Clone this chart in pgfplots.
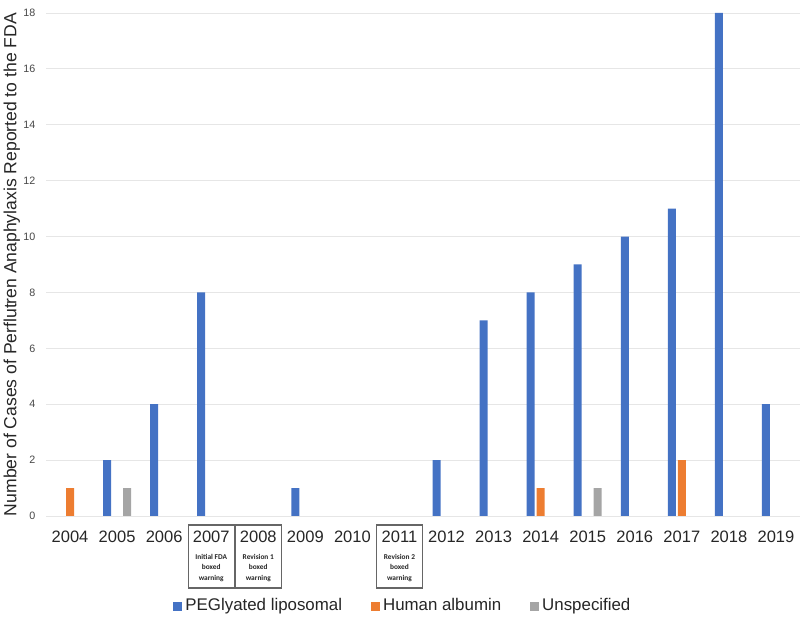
\documentclass[border=0pt]{standalone}
\usepackage{pgfplots}
\pgfplotsset{compat=1.18}
\usepackage{fontspec}
\setmainfont{Liberation Sans}
\newfontfamily\boxfont{Carlito}
\definecolor{peg}{HTML}{4472C4}
\definecolor{alb}{HTML}{ED7D31}
\definecolor{uns}{HTML}{A5A5A5}
\definecolor{txt}{HTML}{262626}
\definecolor{gridc}{HTML}{E6E6E6}
\begin{document}
\begin{tikzpicture}
\useasboundingbox (0,0) rectangle (16cm,12.42cm);
\begin{axis}[at={(0.93cm,2.1cm)},anchor=south west,
 scale only axis,width=15.06cm,height=10.06cm,
 ybar=0.04cm,bar width=0.16cm,
 xmin=-0.5,xmax=15.5,ymin=0,ymax=18,
 xtick={0,...,15},
 xticklabels={2004,2005,2006,2007,2008,2009,2010,2011,2012,2013,2014,2015,2016,2017,2018,2019},
 ytick={0,2,...,18},
 xticklabel style={font=\fontsize{9.4}{11}\selectfont,text=txt,anchor=center,yshift=-0.42cm},
 yticklabel style={font=\fontsize{6.1}{7}\selectfont,text=txt!85,xshift=-0.1cm},
 /pgf/number format/assume math mode=true,
 ylabel={Number of Cases of Perflutren Anaphylaxis Reported to the FDA},
 ylabel style={font=\fontsize{10}{12}\selectfont,text=txt,at={(axis description cs:-0.046,0.5)},anchor=center},
 axis lines*=left,
 y axis line style={draw=none},
 x axis line style={draw=gridc},
 major tick length=0pt,
 ymajorgrids,grid style={gridc,line width=0.5pt},
 legend columns=3,
 legend style={at={(0.474,-0.179)},anchor=center,draw=none,font=\fontsize{9.6}{11}\selectfont,text=txt,
  /tikz/every even column/.append style={column sep=0.5cm}},
 legend image code/.code={\fill[#1] (0cm,-0.09cm) rectangle (0.18cm,0.09cm);},
 clip=false]
\addplot[fill=peg,draw=none] coordinates {(1,2) (2,4) (3,8) (5,1) (8,2) (9,7) (10,8) (11,9) (12,10) (13,11) (14,18) (15,4)};
\addlegendentry{PEGlyated liposomal}
\addplot[fill=alb,draw=none] coordinates {(0,1) (10,1) (13,2)};
\addlegendentry{Human albumin}
\addplot[fill=uns,draw=none] coordinates {(1,1) (11,1)};
\addlegendentry{Unspecified}
\foreach \i in {3,4,7}{
 \edef\temp{\noexpand\draw[black!60,line width=0.6pt] ([xshift=-0.46cm,yshift=-0.18cm]axis cs:\i,0) rectangle ([xshift=0.46cm,yshift=-1.44cm]axis cs:\i,0);}\temp
}
\node[font=\boxfont\bfseries\fontsize{4.2}{6.2}\selectfont,text=txt,align=center] at ([yshift=-1.04cm]axis cs:3,0) {Initial FDA\\boxed\\warning};
\node[font=\boxfont\bfseries\fontsize{4.2}{6.2}\selectfont,text=txt,align=center] at ([yshift=-1.04cm]axis cs:4,0) {Revision 1\\boxed\\warning};
\node[font=\boxfont\bfseries\fontsize{4.2}{6.2}\selectfont,text=txt,align=center] at ([yshift=-1.04cm]axis cs:7,0) {Revision 2\\boxed\\warning};
\end{axis}
\end{tikzpicture}
\end{document}
